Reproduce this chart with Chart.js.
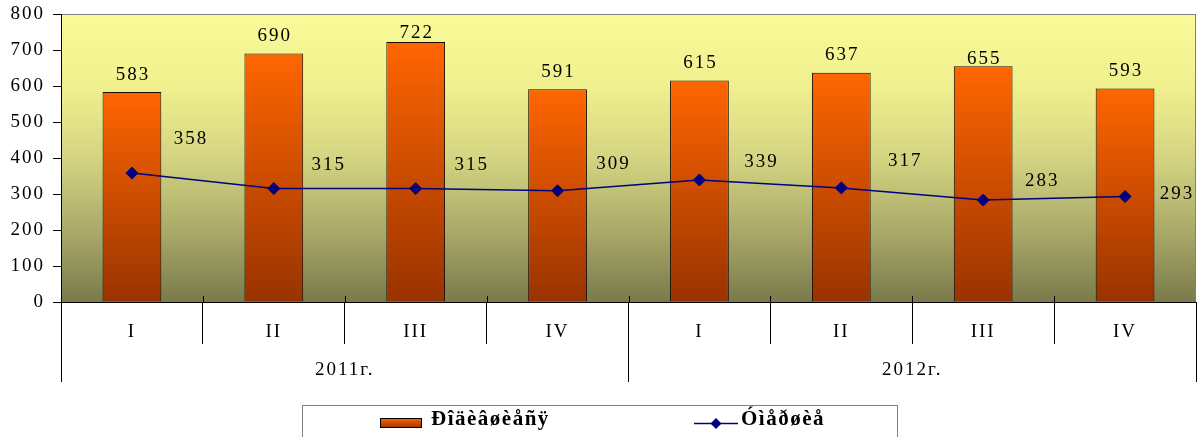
<!DOCTYPE html>
<html><head><meta charset="utf-8">
<script src="https://cdn.jsdelivr.net/npm/chart.js@4.4.1/dist/chart.umd.min.js"></script>
<style>html,body{margin:0;padding:0;background:#fff;overflow:hidden}#wrap{width:1199px;height:437px}</style>
</head><body><div id="wrap"><canvas id="c" width="1199" height="437"></canvas></div>
<script>
// ---- data ----
const quarters = ['I', 'II', 'III', 'IV', 'I', 'II', 'III', 'IV'];
const years = ['2011г.', '2012г.'];
const births = [583, 690, 722, 591, 615, 637, 655, 593];
const deaths = [358, 315, 315, 309, 339, 317, 283, 293];
const seriesNames = ['Ðîäèâøèåñÿ', 'Óìåðøèå'];
const yMin = 0, yMax = 800, yStep = 100;

// ---- label placement (pixel offsets, not data) ----
const barLabelDy = [-19, -19, -11, -19, -19, -19, -9, -19];
const lineLabelOff = [[58, -36], [54, -25], [55, -25], [55, -28], [61, -19], [63, -28], [58, -21], [51, -4]];

const SERIF = '"Liberation Serif", "Times New Roman", serif';

function barGradient(ctx, top, bottom) {
  const g = ctx.createLinearGradient(0, top, 0, bottom);
  g.addColorStop(0, '#FF6600');
  g.addColorStop(1, '#993300');
  return g;
}

function zeroPad(s) { s.paddingTop = 0; s.paddingBottom = 0; s.paddingLeft = 0; s.paddingRight = 0; }

const plotBg = {
  id: 'plotBg',
  beforeDraw(chart) {
    const { ctx, chartArea: a } = chart;
    const g = ctx.createLinearGradient(0, a.top, 0, a.bottom);
    g.addColorStop(0, 'rgb(250,250,152)');
    g.addColorStop(0.25, 'rgb(240,240,142)');
    g.addColorStop(0.5, 'rgb(212,212,130)');
    g.addColorStop(0.75, 'rgb(170,170,105)');
    g.addColorStop(1, 'rgb(122,122,76)');
    ctx.save();
    ctx.fillStyle = g;
    ctx.fillRect(a.left, a.top, a.right - a.left, a.bottom - a.top);
    ctx.strokeStyle = '#808080';
    ctx.lineWidth = 1;
    ctx.strokeRect(a.left + 0.5, a.top + 0.5, a.right - a.left - 1, a.bottom - a.top);
    ctx.restore();
    ctx.letterSpacing = '2px';
  },
  afterDraw(chart) {
    const { ctx, chartArea: a, scales } = chart;
    ctx.save();
    // cross-tick overhang above the category axis
    ctx.strokeStyle = '#000';
    ctx.lineWidth = 1;
    for (let i = 1; i < quarters.length; i++) {
      const px = Math.round(scales.x.getPixelForValue(i - 0.5)) + 0.5;
      ctx.beginPath();
      ctx.moveTo(px, a.bottom - 6);
      ctx.lineTo(px, a.bottom);
      ctx.stroke();
    }
    // legend
    ctx.strokeStyle = '#808080';
    ctx.strokeRect(302.5, 405.5, 595, 40);
    ctx.fillStyle = barGradient(ctx, 418, 428);
    ctx.fillRect(380.5, 418.5, 41, 9);
    ctx.strokeStyle = '#000';
    ctx.strokeRect(380.5, 418.5, 41, 9);
    ctx.strokeStyle = '#000080';
    ctx.lineWidth = 1.5;
    ctx.beginPath();
    ctx.moveTo(694, 423.5);
    ctx.lineTo(738, 423.5);
    ctx.stroke();
    ctx.fillStyle = '#000080';
    ctx.beginPath();
    ctx.moveTo(716, 418); ctx.lineTo(721.5, 423.5); ctx.lineTo(716, 429); ctx.lineTo(710.5, 423.5);
    ctx.closePath(); ctx.fill();
    ctx.fillStyle = '#000';
    ctx.font = 'bold 21px ' + SERIF;
    ctx.letterSpacing = '1.5px';
    ctx.textAlign = 'left';
    ctx.textBaseline = 'alphabetic';
    ctx.fillText(chart.data.datasets[1].label, 431, 425);
    ctx.fillText(chart.data.datasets[0].label, 741, 425);
    ctx.restore();
  }
};

const valueLabels = {
  id: 'valueLabels',
  afterDatasetsDraw(chart) {
    const ctx = chart.ctx;
    ctx.save();
    ctx.font = '19px ' + SERIF;
    ctx.letterSpacing = '2px';
    ctx.fillStyle = '#000';
    ctx.textAlign = 'center';
    ctx.textBaseline = 'alphabetic';
    const barMeta = chart.getDatasetMeta(1);
    barMeta.data.forEach((el, i) => {
      ctx.fillText(String(births[i]), el.x + 1, el.y + barLabelDy[i] + 6.5);
    });
    const lineMeta = chart.getDatasetMeta(0);
    lineMeta.data.forEach((el, i) => {
      ctx.fillText(String(deaths[i]), el.x + lineLabelOff[i][0] + 1, el.y + lineLabelOff[i][1] + 6.5);
    });
    ctx.restore();
  }
};

new Chart(document.getElementById('c'), {
  data: {
    labels: quarters,
    datasets: [
      {
        type: 'line',
        label: seriesNames[1],
        data: deaths,
        order: 0,
        borderColor: '#000080',
        borderWidth: 1.5,
        tension: 0,
        pointStyle: 'rectRot',
        pointRadius: 6,
        pointBackgroundColor: '#000080',
        pointBorderColor: '#000080',
        pointBorderWidth: 1,
        xAxisID: 'x', yAxisID: 'y'
      },
      {
        type: 'bar',
        label: seriesNames[0],
        data: births,
        order: 1,
        backgroundColor: (c) => {
          const ch = c.chart;
          if (!ch.chartArea || c.type !== 'data') return '#FF6600';
          const y = ch.scales.y;
          return barGradient(ch.ctx, y.getPixelForValue(c.raw), y.getPixelForValue(0));
        },
        borderColor: '#1a0800',
        borderWidth: 1,
        borderSkipped: 'bottom',
        categoryPercentage: 0.82,
        barPercentage: 0.505,
        xAxisID: 'x', yAxisID: 'y'
      }
    ]
  },
  options: {
    responsive: false,
    animation: false,
    devicePixelRatio: 1,
    layout: { autoPadding: false, padding: { top: 14, right: 3, bottom: 54, left: 0 } },
    plugins: { legend: { display: false }, tooltip: { enabled: false } },
    scales: {
      y: {
        position: 'left',
        min: yMin, max: yMax,
        ticks: { stepSize: yStep, color: '#000', font: { family: SERIF, size: 19 }, padding: 8 },
        grid: { drawOnChartArea: false, drawTicks: true, tickLength: 8, color: '#000' },
        border: { color: '#000', width: 1 },
        afterFit(s) { s.width = 61; zeroPad(s); }
      },
      x: {
        type: 'category',
        position: 'bottom',
        weight: 0,
        offset: true,
        ticks: { color: '#000', font: { family: SERIF, size: 19 }, padding: -23, maxRotation: 0, autoSkip: false },
        grid: { offset: true, drawOnChartArea: false, drawTicks: true, tickLength: 42, color: '#000' },
        border: { color: '#000', width: 1 },
        afterFit(s) { s.height = 42; zeroPad(s); }
      },
      year: {
        type: 'category',
        position: 'bottom',
        weight: 1,
        offset: true,
        labels: years,
        ticks: { color: '#000', font: { family: SERIF, size: 19 }, padding: -23, maxRotation: 0, autoSkip: false },
        grid: { offset: true, drawOnChartArea: false, drawTicks: true, tickLength: 38, color: '#000' },
        border: { display: false },
        afterFit(s) { s.height = 39; zeroPad(s); }
      }
    }
  },
  plugins: [plotBg, valueLabels]
});
</script>
</body></html>
